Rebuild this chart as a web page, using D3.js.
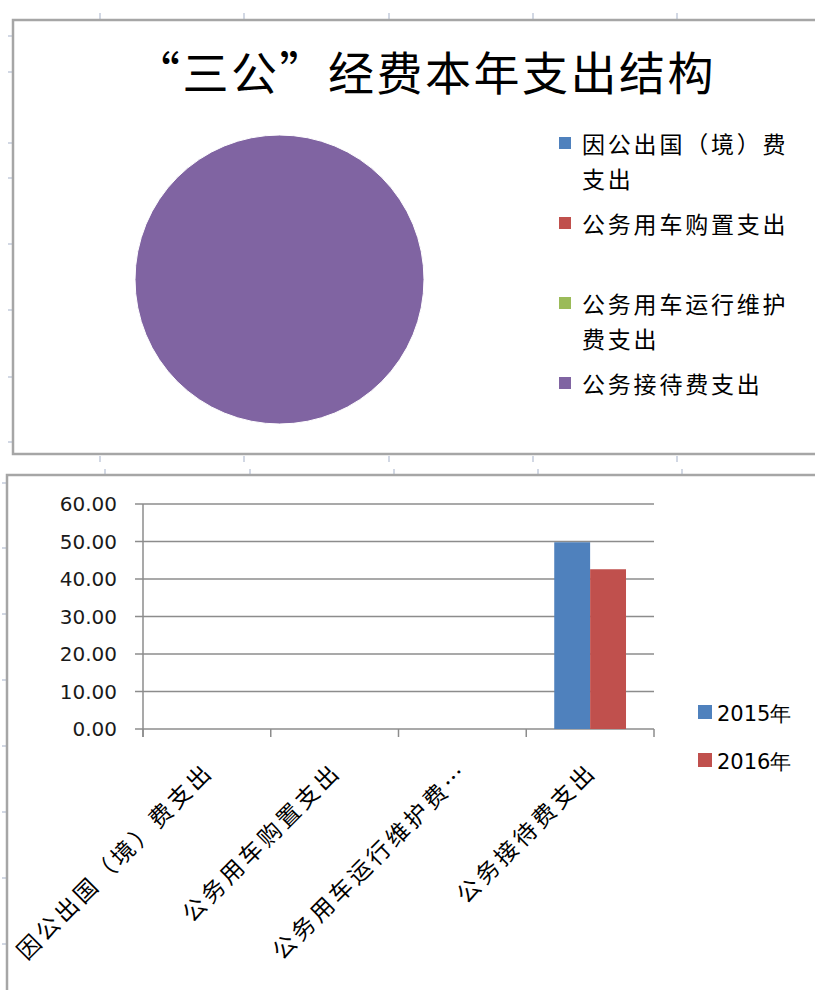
<!DOCTYPE html>
<html>
<head>
<meta charset="utf-8">
<script src="https://cdn.jsdelivr.net/npm/d3@7"></script>
<style>
  body { margin: 0; background: #fff; }
</style>
</head>
<body>
<svg width="815" height="990"></svg>
<script>
const svg = d3.select('svg');

// data
const categories = ['因公出国（境）费支出', '公务用车购置支出', '公务用车运行维护费支出', '公务接待费支出'];
const axisLabels = ['因公出国（境）费支出', '公务用车购置支出', '公务用车运行维护费…', '公务接待费支出'];
const pieLegend = [['因公出国（境）费', '支出'], ['公务用车购置支出'], ['公务用车运行维护', '费支出'], ['公务接待费支出']];
const pieValues = [0, 0, 0, 42.6];
const series = ['2015年', '2016年'];
const values2015 = [0, 0, 0, 49.8];
const values2016 = [0, 0, 0, 42.6];
const yTicks = [0, 10, 20, 30, 40, 50, 60];
const colors = ['#4F81BD', '#C0504D', '#9BBB59', '#8064A2'];

const cjk = '"Noto Sans CJK SC", sans-serif';
const num = '"DejaVu Sans", sans-serif';

// sheet grid marks around the frames
const markColor = '#c3cbdb';
[100, 244, 389, 533, 677].forEach(x => {
  svg.append('line').attr('x1', x).attr('x2', x).attr('y1', 13).attr('y2', 19)
    .attr('stroke', markColor).attr('stroke-width', 1.5);
  svg.append('line').attr('x1', x).attr('x2', x).attr('y1', 456).attr('y2', 462)
    .attr('stroke', markColor).attr('stroke-width', 1.5);
});
[105, 250, 394, 538, 682].forEach(x => {
  svg.append('line').attr('x1', x).attr('x2', x).attr('y1', 469).attr('y2', 474)
    .attr('stroke', markColor).attr('stroke-width', 1.5);
});
[36, 72, 143, 178, 244, 310, 377, 442].forEach(y => {
  svg.append('line').attr('x1', 8).attr('x2', 13).attr('y1', y).attr('y2', y)
    .attr('stroke', markColor).attr('stroke-width', 1.5);
});
[483, 548, 614, 680, 746, 812, 878, 944].forEach(y => {
  svg.append('line').attr('x1', 2).attr('x2', 7).attr('y1', y).attr('y2', y)
    .attr('stroke', markColor).attr('stroke-width', 1.5);
});

// frames
svg.append('rect').attr('x', 13).attr('y', 20).attr('width', 900).attr('height', 434)
  .attr('fill', '#fff').attr('stroke', '#a6a6a6').attr('stroke-width', 2.5);
svg.append('rect').attr('x', 7).attr('y', 475).attr('width', 900).attr('height', 600)
  .attr('fill', '#fff').attr('stroke', '#a6a6a6').attr('stroke-width', 2.5);

// ---- pie chart ----
svg.append('text')
  .attr('x', 425).attr('y', 90)
  .attr('text-anchor', 'middle')
  .style('font-family', cjk).style('font-size', '46px').style('letter-spacing', '2.5px')
  .attr('fill', '#000')
  .text('“三公”经费本年支出结构');

const pie = d3.pie().sort(null)(pieValues);
const arc = d3.arc().innerRadius(0).outerRadius(144.5);
svg.append('g').attr('transform', 'translate(279.5,279.5)')
  .selectAll('path').data(pie).enter().append('path')
  .attr('d', arc)
  .attr('fill', (d, i) => colors[i])
  .attr('stroke', '#fff').attr('stroke-width', 1);

const legendY = [137, 217, 297, 377];
const pl = svg.append('g');
pieLegend.forEach((lines, i) => {
  pl.append('rect').attr('x', 559).attr('y', legendY[i]).attr('width', 12).attr('height', 12)
    .attr('fill', colors[i]);
  lines.forEach((t, j) => {
    pl.append('text').attr('x', 582).attr('y', legendY[i] + 16 + j * 35)
      .style('font-family', cjk).style('font-size', '23px').style('letter-spacing', '2.8px')
      .attr('fill', '#000').text(t);
  });
});

// ---- bar chart ----
const x = d3.scaleBand().domain(categories).range([143, 654]);
const xs = d3.scaleBand().domain(series).range([0, x.bandwidth()]).paddingOuter(0.78);
const y = d3.scaleLinear().domain([0, 60]).range([729, 504]);

const bar = svg.append('g');
bar.selectAll('line.grid').data(yTicks).enter().append('line')
  .attr('class', 'grid')
  .attr('x1', 135).attr('x2', 654)
  .attr('y1', d => y(d)).attr('y2', d => y(d))
  .attr('stroke', '#8c8c8c').attr('stroke-width', 1.5);

bar.append('line').attr('x1', 143).attr('x2', 143).attr('y1', y(60)).attr('y2', 737)
  .attr('stroke', '#8c8c8c').attr('stroke-width', 1.5);

const bounds = categories.map(c => x(c)).concat([x.range()[1]]);
bar.selectAll('line.xt').data(bounds).enter().append('line')
  .attr('class', 'xt')
  .attr('x1', d => d).attr('x2', d => d).attr('y1', 729).attr('y2', 737)
  .attr('stroke', '#8c8c8c').attr('stroke-width', 1.5);

bar.selectAll('text.yl').data(yTicks).enter().append('text')
  .attr('class', 'yl')
  .attr('x', 117).attr('y', d => y(d) + 7)
  .attr('text-anchor', 'end')
  .style('font-family', num).style('font-size', '20px')
  .attr('fill', '#1a1a1a')
  .text(d => d.toFixed(2));

const seriesVals = [values2015, values2016];
series.forEach((s, si) => {
  bar.selectAll('rect.s' + si).data(categories).enter().append('rect')
    .attr('class', 's' + si)
    .attr('x', c => x(c) + xs(s))
    .attr('width', xs.bandwidth())
    .attr('y', (c, i) => y(seriesVals[si][i]))
    .attr('height', (c, i) => y(0) - y(seriesVals[si][i]))
    .attr('fill', colors[si]);
});

bar.selectAll('text.xl').data(categories).enter().append('text')
  .attr('class', 'xl')
  .attr('transform', c => `translate(${x(c) + x.bandwidth() / 2 + 8},${773}) rotate(-45)`)
  .attr('text-anchor', 'end')
  .style('font-family', cjk).style('font-size', '23px').style('letter-spacing', '3.6px')
  .attr('fill', '#000')
  .text((c, i) => axisLabels[i]);

const bl = svg.append('g');
series.forEach((s, i) => {
  bl.append('rect').attr('x', 698).attr('y', 705 + i * 48).attr('width', 14).attr('height', 14)
    .attr('fill', colors[i]);
  bl.append('text').attr('x', 717).attr('y', 721 + i * 48)
    .style('font-family', num).style('font-size', '21px')
    .attr('fill', '#000').text(s);
});
</script>
</body>
</html>
